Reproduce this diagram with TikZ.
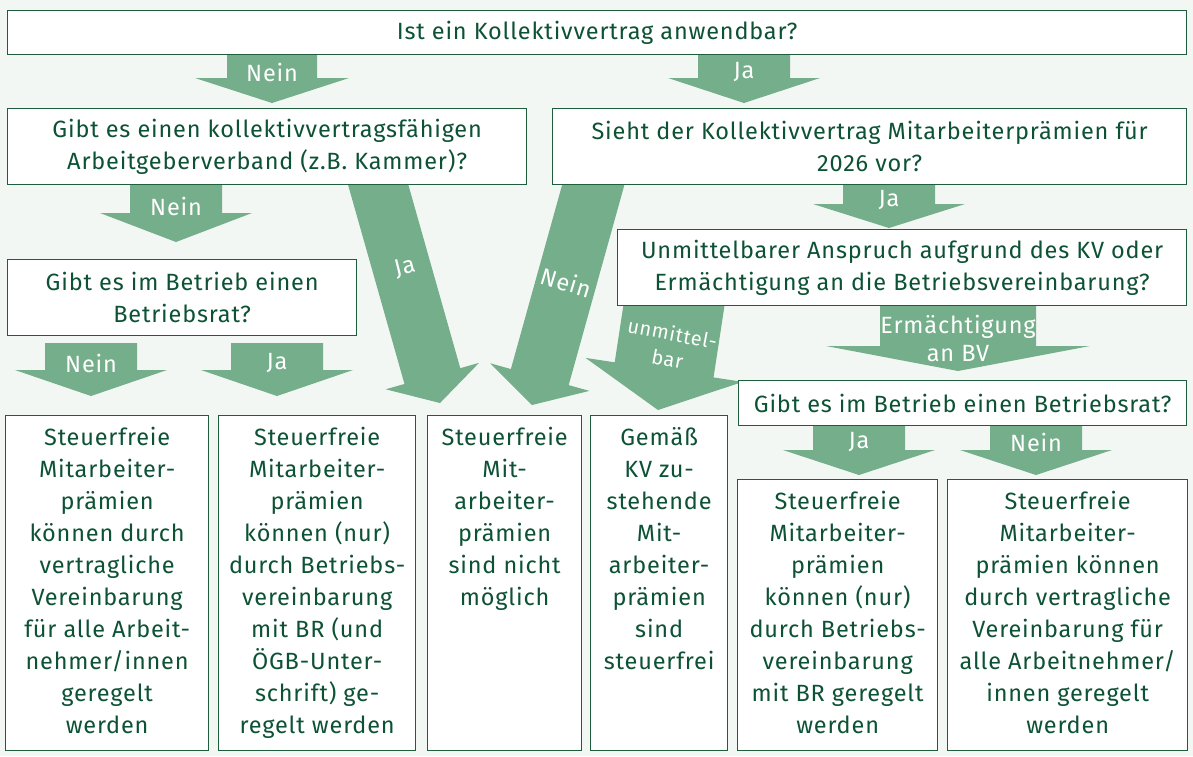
\documentclass[tikz,border=0pt]{standalone}
\usepackage{fontspec}
\setmainfont{Fira Sans}[LetterSpace=3.5]
\usetikzlibrary{calc}
\definecolor{bgc}{HTML}{F3F7F4}
\definecolor{boxline}{HTML}{1F5E3D}
\definecolor{txtg}{HTML}{0D5234}
\definecolor{arrg}{HTML}{74AE8A}
\pgfdeclarelayer{back}
\pgfdeclarelayer{arrows}
\pgfsetlayers{back,arrows,main}
\newcommand\blockarr[5]{%
  \path ($(#2)!#5!(#1)$) coordinate (hb);
  \fill[arr] ($(#1)!#3!90:(#2)$) -- ($(hb)!#3!-90:(#1)$) -- ($(hb)!#4!-90:(#1)$) -- (#2)
     -- ($(hb)!#4!90:(#1)$) -- ($(hb)!#3!90:(#1)$) -- ($(#1)!#3!-90:(#2)$) -- cycle;}
\tikzset{
  box/.style={draw=boxline, line width=1.3pt, fill=white, inner sep=0pt, anchor=north west,
              text=txtg, align=center, font=\fontsize{23.5}{32}\selectfont},
  btxt/.style={text=txtg, align=center, inner sep=0pt, anchor=north, font=\fontsize{23.5}{32}\selectfont},
  arr/.style={fill=arrg, draw=none},
  albl/.style={text=white, align=center, inner sep=0pt, font=\fontsize{23.5}{28}\selectfont},
}
\begin{document}
\begin{tikzpicture}[x=1pt,y=-1pt]
\begin{pgfonlayer}{back}
\fill[bgc] (0,0) rectangle (1193,756);
\end{pgfonlayer}
\useasboundingbox (0,0) rectangle (1193,756);

% question boxes
\node[box, minimum width=1179pt, minimum height=44pt] (top) at (7,10) {Ist ein Kollektivvertrag anwendbar?};
\node[box, minimum width=519pt, minimum height=76pt] (qL) at (7,108) {Gibt es einen kollektivvertragsfähigen\\Arbeitgeberverband (z.B. Kammer)?};
\node[box, minimum width=634pt, minimum height=76pt] (qR) at (552,108) {Sieht der Kollektivvertrag Mitarbeiterprämien für\\2026 vor?};
\node[box, minimum width=349pt, minimum height=76pt] (brL) at (7,259) {Gibt es im Betrieb einen\\Betriebsrat?};
\node[box, minimum width=569pt, minimum height=76pt] (uv) at (617,229) {Unmittelbarer Anspruch aufgrund des KV oder\\Ermächtigung an die Betriebsvereinbarung?};
\node[box, minimum width=448pt, minimum height=45pt] (brR) at (738,380) {Gibt es im Betrieb einen Betriebsrat?};

% result boxes
\node[box, minimum width=203pt, minimum height=335pt] (b1) at (5,415) {};
\node[box, minimum width=197pt, minimum height=335pt] (b2) at (218,415) {};
\node[box, minimum width=154pt, minimum height=335pt] (b3) at (427,415) {};
\node[box, minimum width=137pt, minimum height=335pt] (b4) at (590,415) {};
\node[box, minimum width=200pt, minimum height=271pt] (b5) at (737,479) {};
\node[box, minimum width=240pt, minimum height=271pt] (b6) at (947,479) {};

\node[btxt] (t1) at ($(b1.north)+(0,12)$) {Steuerfreie\\Mitarbeiter-\\prämien\\können durch\\vertragliche\\Vereinbarung\\für alle Arbeit-\\nehmer/innen\\geregelt\\werden};
\node[btxt] (t2) at ($(b2.north)+(0,12)$) {Steuerfreie\\Mitarbeiter-\\prämien\\können (nur)\\durch Betriebs-\\vereinbarung\\mit BR (und\\ÖGB-Unter-\\schrift) ge-\\regelt werden};
\node[btxt] (t3) at ($(b3.north)+(0,12)$) {Steuerfreie\\Mit-\\arbeiter-\\prämien\\sind nicht\\möglich};
\node[btxt] (t4) at ($(b4.north)+(0,12)$) {Gemäß\\KV zu-\\stehende\\Mit-\\arbeiter-\\prämien\\sind\\steuerfrei};
\node[btxt] (t5) at ($(b5.north)+(0,12)$) {Steuerfreie\\Mitarbeiter-\\prämien\\können (nur)\\durch Betriebs-\\vereinbarung\\mit BR geregelt\\werden};
\node[btxt] (t6) at ($(b6.north)+(0,12)$) {Steuerfreie\\Mitarbeiter-\\prämien können\\durch vertragliche\\Vereinbarung für\\alle Arbeitnehmer/\\innen geregelt\\werden};

% arrow end points
\coordinate (s1) at (272,50);  \coordinate (e1) at (272,103);
\coordinate (s2) at (744,50);  \coordinate (e2) at (744,103);
\coordinate (s3) at (176,180); \coordinate (e3) at (176,242);
\coordinate (s4) at (889,180); \coordinate (e4) at (889,228);
\coordinate (s5) at (91,343);  \coordinate (e5) at (91,396);
\coordinate (s6) at (277,343); \coordinate (e6) at (277,396);
\coordinate (s7) at (958,300); \coordinate (e7) at (958,371);
\coordinate (s8) at (859,420); \coordinate (e8) at (859,475);
\coordinate (s9) at (1036,420); \coordinate (e9) at (1036,475);
\coordinate (sJ) at (374,170); \coordinate (eJ) at (440,403);
\coordinate (sN) at (597.4,170); \coordinate (eN) at (532,405);
\coordinate (sU) at (676,292); \coordinate (eU) at (658,410);

\begin{pgfonlayer}{arrows}
\blockarr{s1}{e1}{45pt}{77pt}{25pt}
\blockarr{s2}{e2}{46pt}{76pt}{25pt}
\blockarr{s3}{e3}{46pt}{76pt}{29pt}
\blockarr{s4}{e4}{46pt}{76pt}{24pt}
\blockarr{s5}{e5}{46pt}{76pt}{26pt}
\blockarr{s6}{e6}{46pt}{76pt}{26pt}
\blockarr{s7}{e7}{78pt}{132pt}{25pt}
\blockarr{s8}{e8}{46pt}{76pt}{25pt}
\blockarr{s9}{e9}{46pt}{76pt}{25pt}
\blockarr{sJ}{eJ}{29pt}{48.5pt}{28pt}
\blockarr{sN}{eN}{30pt}{51.5pt}{29pt}
\blockarr{sU}{eU}{50pt}{79.5pt}{40.6pt}
\end{pgfonlayer}

% arrow labels
\node[albl] (l1) at (272,72) {Nein};
\node[albl] (l2) at (744,72) {Ja};
\node[albl] (l3) at (176,206) {Nein};
\node[albl] (l4) at (889,200) {Ja};
\node[albl] (l5) at (91,363) {Nein};
\node[albl] (l6) at (277,363) {Ja};
\node[albl] (l7) at (958,338) {Ermächtigung\\an BV};
\node[albl] (l8) at (859,442) {Ja};
\node[albl] (l9) at (1036,442) {Nein};
\node[albl, rotate=14] (lJ) at (405,268) {Ja};
\node[albl, rotate=-17] (lN) at (566,282) {Nein};
\node[albl, rotate=-11, font=\fontsize{20}{26}\selectfont] (lU) at (670,346) {unmittel-\\bar};
\end{tikzpicture}
\end{document}
